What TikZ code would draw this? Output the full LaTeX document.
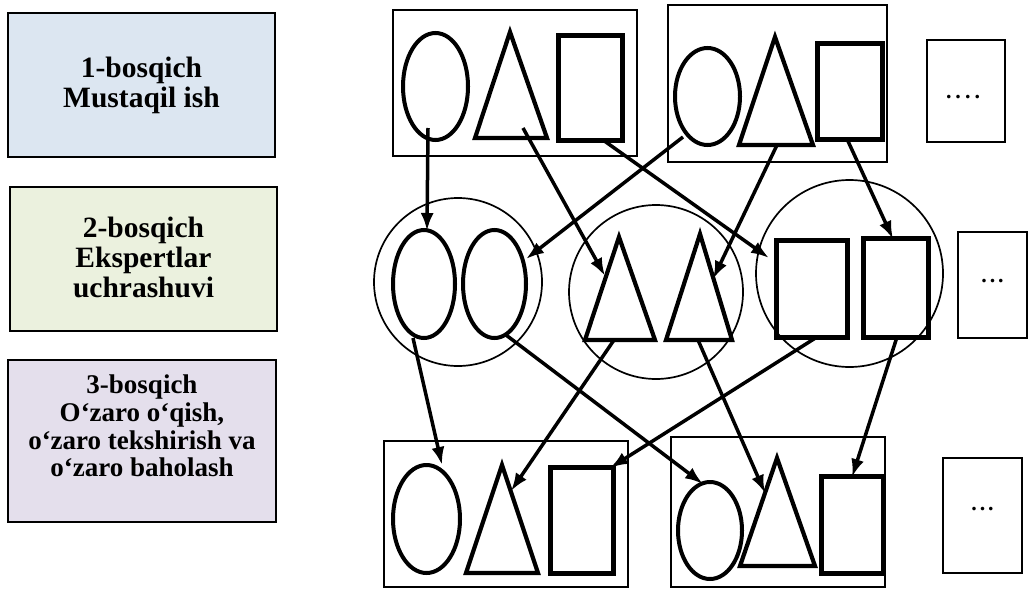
\documentclass[tikz,border=0pt]{standalone}
\usepackage{fontspec}
\setmainfont{Liberation Serif}
\usetikzlibrary{arrows.meta,shapes.geometric}
\definecolor{boxblue}{HTML}{DCE6F1}
\definecolor{boxgreen}{HTML}{EBF1DE}
\definecolor{boxlilac}{HTML}{E4DFEC}
\tikzset{
  stagebox/.style={draw=black, line width=2pt},
  stagetext/.style={align=center, font=\bfseries\fontsize{29.5}{30}\selectfont, inner sep=0pt},
  grp/.style={draw=black, line width=2pt},
  ell/.style={draw=black, line width=4pt},
  tri/.style={draw=black, line width=4.2pt, line join=miter},
  sq/.style={draw=black, line width=5pt},
  bigc/.style={draw=black, line width=1.7pt},
  dotbox/.style={draw=black, line width=2.2pt},
  dottext/.style={font=\bfseries\fontsize{22}{24}\selectfont, inner sep=0pt},
  arr/.style={-{Latex[length=18pt,width=13pt]}, line width=3.5pt, draw=black}
}
\begin{document}
\begin{tikzpicture}[x=1pt,y=-1pt]
\useasboundingbox (0,0) rectangle (1030,589);
\fill[white] (0,0) rectangle (1030,589);

% left stage boxes
\draw[stagebox, fill=boxblue] (8,13) rectangle (275,157);
\node[stagetext] (st1) at (141.5,85) {1-bosqich\\Mustaqil ish};
\draw[stagebox, fill=boxgreen] (10,187) rectangle (277,331);
\node[stagetext] (st2) at (143.5,257) {2-bosqich\\Ekspertlar\\uchrashuvi};
\draw[stagebox, fill=boxlilac] (8,360) rectangle (276,522);
\node[stagetext, font=\bfseries\fontsize{27}{27.7}\selectfont] (st3) at (142,426) {3-bosqich\\O‘zaro o‘qish,\\o‘zaro tekshirish va\\o‘zaro baholash};

% top row
\draw[grp] (393,10) rectangle (637,156);
\draw[grp] (668,5) rectangle (887,162);
\draw[ell] (435.5,86.5) ellipse [x radius=32.5, y radius=53.5];
\draw[tri] (475,138) -- (510,32) -- (547,138) -- cycle;
\draw[sq] (558,35) rectangle (622,140);
\draw[ell] (707.5,96.5) ellipse [x radius=32.5, y radius=48.5];
\draw[tri] (739,145) -- (775,37) -- (813,145) -- cycle;
\draw[sq] (817,43) rectangle (882,139);
\draw[dotbox] (927,40) rectangle (1005,142);
\node[dottext] (d1) at (963,97) {.\hspace{4pt}.\hspace{4pt}.\hspace{4pt}.};

% middle row
\draw[bigc] (458,282) circle [radius=84];
\draw[bigc] (656,292) circle [radius=87];
\draw[bigc] (849.5,273.5) circle [radius=93.5];
\draw[ell] (424,284) ellipse [x radius=31, y radius=54];
\draw[ell] (494.5,284) ellipse [x radius=31.5, y radius=54];
\draw[tri] (585,340) -- (619,237) -- (655,340) -- cycle;
\draw[tri] (666,340) -- (700,234) -- (732,340) -- cycle;
\draw[sq] (776,240) rectangle (847,337);
\draw[sq] (863,238) rectangle (928,337);
\draw[dotbox] (958,232) rectangle (1027,338);
\node[dottext] (d2) at (992.5,281) {.\hspace{3pt}.\hspace{3pt}.};

% bottom row
\draw[grp] (384,441) rectangle (628,587);
\draw[grp] (671,437) rectangle (885,587);
\draw[ell] (426.5,519) ellipse [x radius=33.5, y radius=54];
\draw[tri] (466,573) -- (502,465) -- (538,573) -- cycle;
\draw[sq] (550,467) rectangle (613,573);
\draw[ell] (710,530.5) ellipse [x radius=32, y radius=48.5];
\draw[tri] (740,566) -- (777,458) -- (815,566) -- cycle;
\draw[sq] (821,476) rectangle (883,573);
\draw[dotbox] (943,458) rectangle (1022,573);
\node[dottext] (d3) at (982.5,509) {.\hspace{3pt}.\hspace{3pt}.};

% arrow endpoints
\coordinate (s1) at (428,128);  \coordinate (t1) at (427,231);
\coordinate (s2) at (523,128);  \coordinate (t2) at (605,276);
\coordinate (s3) at (603,140);  \coordinate (t3) at (769,258);
\coordinate (s4) at (683,137);  \coordinate (t4) at (526,259);
\coordinate (s5) at (777,145);  \coordinate (t5) at (713,279);
\coordinate (s6) at (847,139);  \coordinate (t6) at (893,239);
\coordinate (s7) at (413,338);  \coordinate (t7) at (442,465);
\coordinate (s8) at (506,335);  \coordinate (t8) at (703,484);
\coordinate (s9) at (614,340);  \coordinate (t9) at (511,491);
\coordinate (s10) at (698,340); \coordinate (t10) at (765,493);
\coordinate (s11) at (817,337); \coordinate (t11) at (610,468);
\coordinate (s12) at (897,337); \coordinate (t12) at (852,477);

\foreach \i in {1,...,12} { \draw[arr] (s\i) -- (t\i); }
\end{tikzpicture}
\end{document}
